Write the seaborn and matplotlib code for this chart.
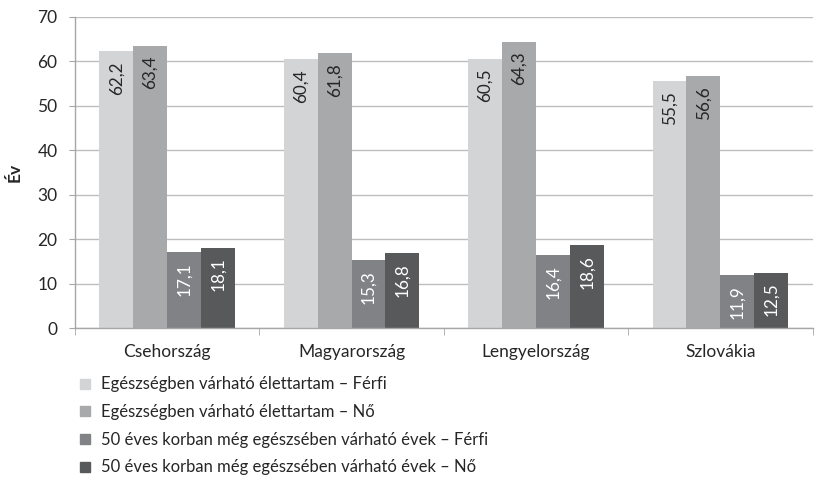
import pandas as pd
import matplotlib
matplotlib.use("Agg")
import matplotlib.pyplot as plt
import seaborn as sns
from matplotlib.lines import Line2D
from matplotlib.ticker import FixedLocator

# data
countries = ["Csehország", "Magyarország", "Lengyelország", "Szlovákia"]
series = [
    "Egészségben várható élettartam – Férfi",
    "Egészségben várható élettartam – Nő",
    "50 éves korban még egészsében várható évek – Férfi",
    "50 éves korban még egészsében várható évek – Nő",
]
hale_men = [62.2, 60.4, 60.5, 55.5]
hale_women = [63.4, 61.8, 64.3, 56.6]
hale50_men = [17.1, 15.3, 16.4, 11.9]
hale50_women = [18.1, 16.8, 18.6, 12.5]

colors = ["#d3d4d5", "#a8a9ab", "#818285", "#58595b"]
label_colors = ["#262626", "#262626", "#ffffff", "#ffffff"]

rows = []
for s, vals in zip(series, [hale_men, hale_women, hale50_men, hale50_women]):
    for c, v in zip(countries, vals):
        rows.append({"Ország": c, "Sorozat": s, "Év": v})
df = pd.DataFrame(rows)

sns.set_style("white")
plt.rcParams["font.family"] = ["Lato", "DejaVu Sans"]

fig = plt.figure(figsize=(8.15, 4.79), dpi=100)
ax = fig.add_axes([0.092, 0.315, 0.905, 0.65])

sns.barplot(data=df, x="Ország", y="Év", hue="Sorozat", hue_order=series,
            order=countries, palette=colors, width=0.735, saturation=1,
            ax=ax, legend=False, linewidth=0)

# value labels inside bars, rotated
for cont, tc in zip(ax.containers, label_colors):
    for bar in cont:
        h = bar.get_height()
        ax.annotate(f"{h:.1f}".replace(".", ","),
                    (bar.get_x() + bar.get_width() / 2, h),
                    xytext=(0, -7), textcoords="offset points",
                    rotation=90, ha="center", va="top",
                    fontsize=12.3, color=tc)

ax.set_ylim(0, 70)
ax.set_yticks(range(0, 71, 10))
ax.set_xlim(-0.5, 3.5)
ax.yaxis.grid(True, color="#bdbdbd", linewidth=1)
ax.set_axisbelow(True)
for sp in ["top", "right"]:
    ax.spines[sp].set_visible(False)
for sp in ["left", "bottom"]:
    ax.spines[sp].set_color("#a6a6a6")
    ax.spines[sp].set_linewidth(1)

ax.tick_params(axis="y", left=True, length=4.5, color="#a6a6a6",
               labelsize=12.5, labelcolor="#262626", pad=8)
ax.tick_params(axis="x", which="major", bottom=False, labelsize=12.5,
               labelcolor="#262626", pad=8)
ax.xaxis.set_minor_locator(FixedLocator([-0.5, 0.5, 1.5, 2.5, 3.5]))
ax.tick_params(axis="x", which="minor", bottom=True, length=5,
               color="#a6a6a6")

ax.set_xlabel("")
ax.set_ylabel("Év", fontsize=12.5, fontweight="bold", color="#262626",
              labelpad=11)

handles = [Line2D([], [], marker="s", linestyle="none", markersize=6.5,
                  markerfacecolor=c, markeredgecolor=c) for c in colors]
fig.legend(handles, series, loc="upper left",
           bbox_to_anchor=(0.088, 0.228), frameon=False,
           fontsize=12, labelcolor="#262626", handlelength=0.8,
           handletextpad=0.55, labelspacing=0.7, borderaxespad=0)

fig.savefig("out.png", dpi=100)
